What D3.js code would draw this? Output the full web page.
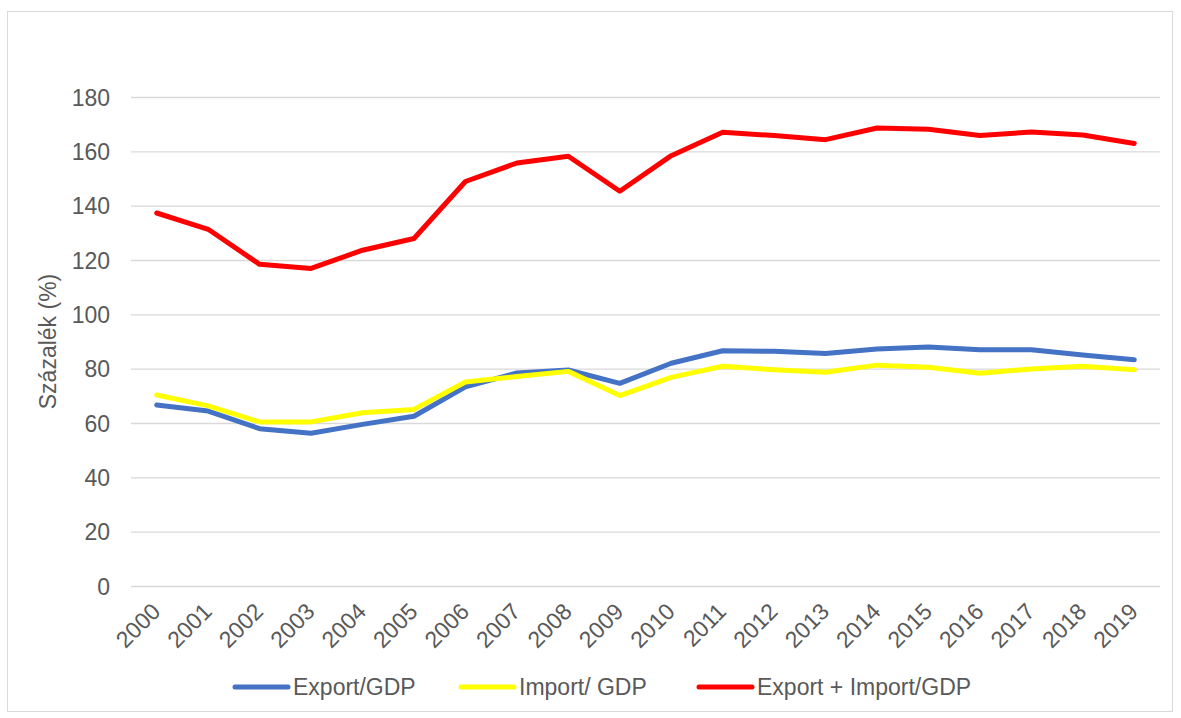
<!DOCTYPE html>
<html>
<head>
<meta charset="utf-8">
<script src="https://cdn.jsdelivr.net/npm/d3@7"></script>
<style>
  body { margin: 0; background: #fff; }
  text { font-family: "Liberation Sans", Arial, sans-serif; fill: #595959; }
</style>
</head>
<body>
<svg id="chart" width="1181" height="718"></svg>
<script>
// Data
var years = ['2000','2001','2002','2003','2004','2005','2006','2007','2008','2009',
             '2010','2011','2012','2013','2014','2015','2016','2017','2018','2019'];
var exportGdp = [66.6, 64.4, 57.9, 56.2, 59.5, 62.5, 73.3, 78.4, 79.5, 74.6,
                 82.0, 86.6, 86.4, 85.6, 87.2, 88.0, 87.0, 87.0, 85.0, 83.3];
var importGdp = [70.3, 66.3, 60.4, 60.4, 63.8, 65.0, 75.1, 77.1, 79.0, 70.1,
                 76.8, 80.9, 79.6, 78.7, 81.3, 80.5, 78.3, 79.9, 80.9, 79.6];
var totalGdp  = [137.3, 131.3, 118.4, 116.9, 123.6, 127.9, 148.9, 155.7, 158.2, 145.3,
                 158.4, 167.0, 165.8, 164.3, 168.6, 168.1, 165.8, 167.1, 166.0, 162.9];
var yTicks = [0, 20, 40, 60, 80, 100, 120, 140, 160, 180];
var seriesNames = ['Export/GDP', 'Import/ GDP', 'Export + Import/GDP'];
var seriesColors = ['#4472C4', '#FFFF00', '#FF0000'];

var series = [exportGdp, importGdp, totalGdp];

var svg = d3.select('#chart');
var FONT = '23px';

// Outer frame
svg.append('rect')
  .attr('x', 7.5).attr('y', 11.5)
  .attr('width', 1165).attr('height', 700)
  .attr('fill', 'none')
  .attr('stroke', '#d9d9d9');

var margin = {left: 131, right: 1160, top: 97, bottom: 586};

var x = d3.scaleBand()
  .domain(years)
  .range([margin.left, margin.right]);
var y = d3.scaleLinear()
  .domain([0, 180])
  .range([margin.bottom, margin.top]);

// Gridlines + y labels
var yAxis = d3.axisLeft(y)
  .tickValues(yTicks)
  .tickSize(-(margin.right - margin.left))
  .tickPadding(21);
var gy = svg.append('g')
  .attr('transform', `translate(${margin.left},0)`)
  .call(yAxis);
gy.select('.domain').remove();
gy.selectAll('line').attr('stroke', '#d9d9d9').attr('stroke-width', 1.3);
gy.selectAll('text')
  .style('font-size', FONT)
  .attr('fill', '#595959')
  .attr('dy', '0.35em');

// x labels rotated
var gx = svg.append('g')
  .attr('transform', `translate(0,${margin.bottom})`)
  .call(d3.axisBottom(x).tickSize(0).tickPadding(0));
gx.select('.domain').remove();
gx.selectAll('text')
  .style('font-size', FONT)
  .attr('fill', '#595959')
  .attr('text-anchor', 'end')
  .attr('dy', null)
  .attr('y', 0)
  .attr('transform', 'translate(5,27) rotate(-45)');

// Y axis title
svg.append('text')
  .attr('transform', `translate(56,${(margin.top + margin.bottom) / 2}) rotate(-90)`)
  .attr('text-anchor', 'middle')
  .style('font-size', FONT)
  .text('Százalék (%)');

// Lines
var line = d3.line()
  .x((d, i) => x(years[i]) + x.bandwidth() / 2)
  .y((d) => y(d));

svg.selectAll('.series')
  .data(series)
  .enter().append('path')
  .attr('class', 'series')
  .attr('d', line)
  .attr('fill', 'none')
  .attr('stroke', (d, i) => seriesColors[i])
  .attr('stroke-width', 5)
  .attr('stroke-linejoin', 'round')
  .attr('stroke-linecap', 'round');

// Legend
var legendX = [233, 459, 697];
var leg = svg.selectAll('.legend')
  .data(seriesNames)
  .enter().append('g')
  .attr('class', 'legend')
  .attr('transform', (d, i) => `translate(${legendX[i]},687)`);
leg.append('line')
  .attr('x1', 2).attr('x2', 55)
  .attr('stroke', (d, i) => seriesColors[i])
  .attr('stroke-width', 5)
  .attr('stroke-linecap', 'round');
leg.append('text')
  .attr('x', 60)
  .attr('dy', '0.35em')
  .style('font-size', FONT)
  .text((d) => d);
</script>
</body>
</html>
